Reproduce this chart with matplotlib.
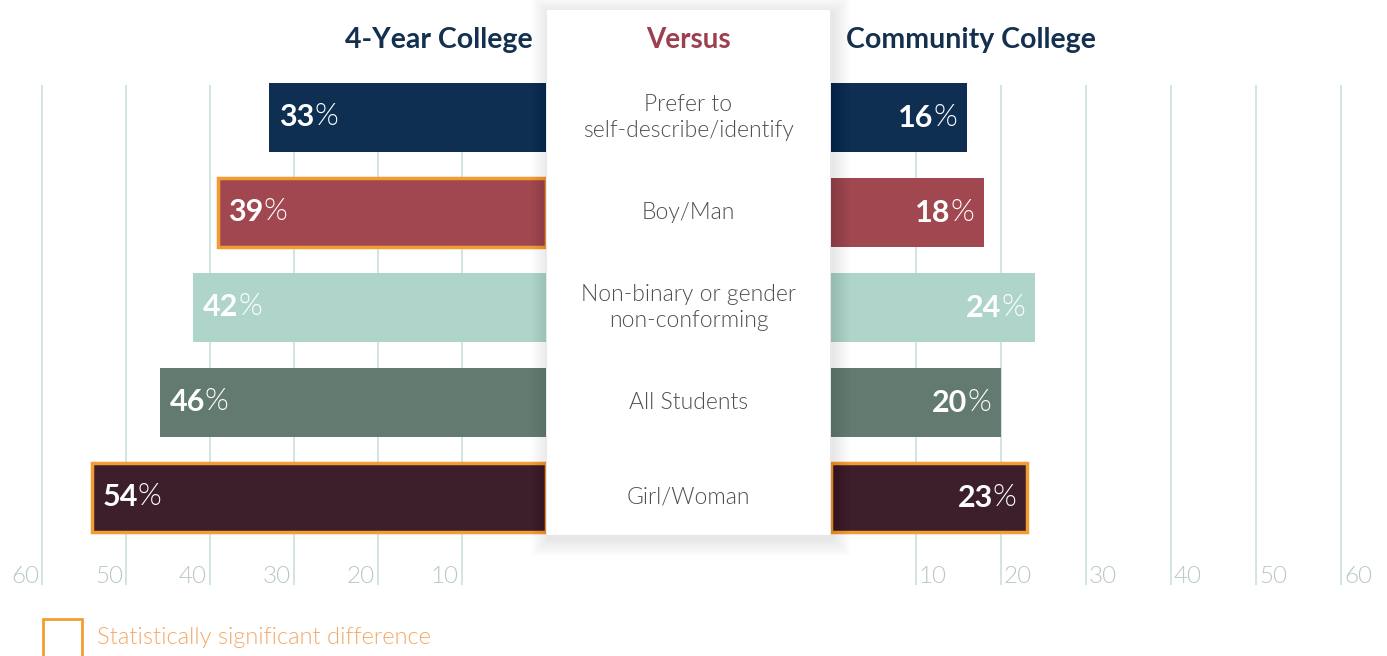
import matplotlib
matplotlib.use('Agg')
import matplotlib.pyplot as plt
from matplotlib.patches import Rectangle
from matplotlib.transforms import blended_transform_factory

plt.rcParams['font.family'] = ['Lato', 'DejaVu Sans']

# ── Data ──────────────────────────────────────────────────────────────────────
categories = ['Prefer to\nself-describe/identify', 'Boy/Man',
              'Non-binary or gender\nnon-conforming', 'All Students', 'Girl/Woman']
four_year = [33, 39, 42, 46, 54]
community = [16, 18, 24, 20, 23]
sig_four_year = [False, True, False, False, True]
sig_community = [False, False, False, False, True]
bar_colors = ['#0f2f52', '#a0474f', '#afd4ca', '#627a6f', '#3d1f2b']
ticks = [10, 20, 30, 40, 50, 60]

W, H = 1387, 656
NAVY = '#13304f'
ORANGE = '#f39c32'
GRID = '#cfe3df'
TICKC = '#b8c6c6'
LIGHT = 300   # Lato Light


def px(x0, y0, x1, y1):
    """pixel box (top-left origin) -> figure fraction rect"""
    return [x0 / W, 1 - y1 / H, (x1 - x0) / W, (y1 - y0) / H]


fig = plt.figure(figsize=(W / 100, H / 100), dpi=100)
fig.patch.set_facecolor('white')

ax_l = fig.add_axes(px(42, 70, 546, 590))
ax_r = fig.add_axes(px(831, 70, 1341, 590))
ylo, yhi = 4.974, -0.5
for ax in (ax_l, ax_r):
    ax.set_ylim(ylo, yhi)
    ax.axis('off')
ax_l.set_xlim(60, 0)
ax_r.set_xlim(0, 60)

ypos = list(range(len(categories)))
bh = 0.72

for ax, vals, sig, side in ((ax_l, four_year, sig_four_year, 'L'),
                            (ax_r, community, sig_community, 'R')):
    ax.vlines(ticks, -0.342, 4.92, color=GRID, lw=1.3, zorder=0, clip_on=False)
    for t in ticks:
        if side == 'L':
            ax.annotate(str(t), (t, 4.835), xytext=(-3, 0), textcoords='offset pixels',
                        ha='right', va='center', fontsize=17.5, color=TICKC,
                        fontweight=LIGHT, annotation_clip=False)
        else:
            ax.annotate(str(t), (t, 4.835), xytext=(3, 0), textcoords='offset pixels',
                        ha='left', va='center', fontsize=17.5, color=TICKC,
                        fontweight=LIGHT, annotation_clip=False)
    for y, v, s, c in zip(ypos, vals, sig, bar_colors):
        ax.barh(y, v, height=bh, color=c, zorder=2,
                edgecolor=ORANGE if s else 'none', linewidth=2.5 if s else 0)
        if side == 'L':
            num = ax.annotate(str(v), (v, y), xytext=(10, 0), textcoords='offset pixels',
                              ha='left', va='center', fontsize=22, color='white',
                              fontweight='bold', zorder=4)
            ax.annotate('%', xy=(1, 0), xycoords=num, ha='left', va='bottom',
                        fontsize=22, color='white', fontweight=LIGHT, zorder=4)
        else:
            pct = ax.annotate('%', (v, y), xytext=(-10, 0), textcoords='offset pixels',
                              ha='right', va='center', fontsize=22, color='white',
                              fontweight=LIGHT, zorder=4)
            ax.annotate(str(v), xy=(0, 0), xycoords=pct, ha='right', va='bottom',
                        fontsize=22, color='white', fontweight='bold', zorder=4)

# ── Centre card ───────────────────────────────────────────────────────────────
ax_o = fig.add_axes([0, 0, 1, 1], zorder=5)
ax_o.set_xlim(0, W)
ax_o.set_ylim(H, 0)
ax_o.axis('off')
ax_o.patch.set_alpha(0)

cx0, cy0, cx1, cy1 = 547, 10, 830, 535
for i in range(12):
    pad = 1.5 * (i + 1)
    ax_o.add_patch(Rectangle((cx0 - pad + 2, cy0 - pad + 3), cx1 - cx0 + 2 * pad,
                             cy1 - cy0 + 2 * pad, facecolor='#000000', alpha=0.006,
                             edgecolor='none', zorder=1))
ax_o.add_patch(Rectangle((cx0, cy0), cx1 - cx0, cy1 - cy0, facecolor='white',
                         edgecolor='none', zorder=2))

mid = (cx0 + cx1) / 2
ax_o.text(mid, 40, 'Versus', ha='center', va='center', fontsize=20,
          fontweight='bold', color='#9c3f4f', zorder=3)
ax_o.text(533, 40, '4-Year College', ha='right', va='center', fontsize=20.5,
          fontweight='bold', color=NAVY, zorder=3)
ax_o.text(846, 40, 'Community College', ha='left', va='center', fontsize=20.5,
          fontweight='bold', color=NAVY, zorder=3)

tr = blended_transform_factory(ax_o.transData, ax_l.transData)
for y, cat in zip(ypos, categories):
    ax_o.text(mid, y, cat, transform=tr, ha='center', va='center', fontsize=16.5,
              color='#4f4f4f', fontweight=LIGHT, linespacing=1.3, zorder=3)

# ── Legend ────────────────────────────────────────────────────────────────────
ax_o.add_patch(Rectangle((43, 619), 39, 40, facecolor='white', edgecolor=ORANGE,
                         linewidth=2, zorder=3, clip_on=False))
ax_o.text(97, 638, 'Statistically significant difference', ha='left', va='center',
          fontsize=17, color='#f3a966', fontweight=LIGHT, zorder=3)

fig.savefig('out.png', dpi=100)
